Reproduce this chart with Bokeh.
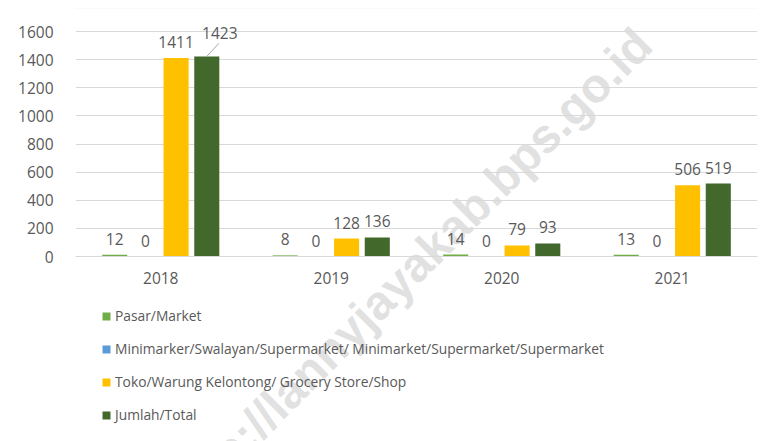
from bokeh.plotting import figure
from bokeh.models import (ColumnDataSource, FactorRange, LabelSet, Legend, LegendItem,
                          Label, Range1d, FixedTicker, BoxAnnotation)
from bokeh.transform import dodge
from bokeh.core.properties import value
from bokeh.embed import file_html
from bokeh.resources import INLINE

# ---- data ----
years = ["2018", "2019", "2020", "2021"]
pasar = [12, 8, 14, 13]
minimarket = [0, 0, 0, 0]
toko = [1411, 128, 79, 506]
jumlah = [1423, 136, 93, 519]
series_names = [
    "Pasar/Market",
    "Minimarker/Swalayan/Supermarket/ Minimarket/Supermarket/Supermarket",
    "Toko/Warung Kelontong/ Grocery Store/Shop",
    "Jumlah/Total",
]
y_ticks = [0, 200, 400, 600, 800, 1000, 1200, 1400, 1600]

# ---- style / layout ----
colors = ["#70AD47", "#5B9BD5", "#FFC000", "#43682B"]
offsets = [-0.27, -0.09, 0.09, 0.27]
bar_w = 0.147
txt = "#595959"
grid = "#D9D9D9"
font = "Open Sans"
fs = "15.5px"

W, H = 772, 441
frame_left, frame_right = 75, 757
frame_top = 8
zero_px = 256           # pixel row of value 0
top_val_px = 31         # pixel row of value 1600
ppu = (zero_px - top_val_px) / 1600.0
y_lo = -(H - zero_px) / ppu
y_hi = (zero_px - frame_top) / ppu

p = figure(x_range=FactorRange(*years), y_range=Range1d(y_lo, y_hi),
           width=W, height=H, output_backend="svg", toolbar_location=None,
           min_border_left=frame_left, min_border_right=W - frame_right,
           min_border_top=frame_top, min_border_bottom=0)
p.outline_line_color = None
p.background_fill_color = "white"
p.border_fill_color = "white"

p.xgrid.grid_line_color = None
p.ygrid.grid_line_color = grid
p.ygrid.grid_line_width = 1
p.ygrid.ticker = FixedTicker(ticks=y_ticks)

p.yaxis.ticker = FixedTicker(ticks=y_ticks)
p.yaxis.axis_line_color = None
p.yaxis.major_tick_line_color = None
p.yaxis.minor_tick_line_color = None
p.yaxis.major_label_standoff = 16
p.xaxis.fixed_location = 0
p.xaxis.axis_line_color = grid
p.xaxis.major_tick_line_color = None
p.xaxis.minor_tick_line_color = None
p.xaxis.major_label_standoff = 9
for ax in (p.xaxis, p.yaxis):
    ax.major_label_text_font = font
    ax.major_label_text_font_size = fs
    ax.major_label_text_color = txt

# chart border (left and top edges visible in the crop)
border = BoxAnnotation(left=7 - frame_left, right=W + 20, top=H - frame_top,
                       bottom=-50, left_units="screen", right_units="screen",
                       top_units="screen", bottom_units="screen",
                       fill_alpha=0, line_color=grid, line_width=1)
p.add_layout(border)

# watermark (below grid)
wm = Label(x=568, y=H - 36, x_units="screen", y_units="screen",
           text="http://lannyjayakab.bps.go.id", angle=45, angle_units="deg",
           text_align="right", text_baseline="middle", text_font="Liberation Sans",
           text_font_style="bold", text_font_size="48px", text_color="#C8C8C8",
           text_alpha=0.55, level="image")
p.add_layout(wm)

all_vals = [pasar, minimarket, toko, jumlah]
legend_items = []
px_per_cat = (frame_right - frame_left) / 4.0
for i, (name, vals, c, off) in enumerate(zip(series_names, all_vals, colors, offsets)):
    dx = [0] * len(years)
    dy = [10] * len(years)
    if i == 3:
        dx[0] = 13
        dy[0] = 17
    src = ColumnDataSource(dict(year=years, v=vals, t=[str(v) for v in vals],
                                dx=dx, dy=dy))
    r = p.vbar(x=dodge("year", off, range=p.x_range), top="v", bottom=0, width=bar_w,
               source=src, fill_color=c, line_color=None)
    legend_items.append(LegendItem(label=name, renderers=[r]))
    ls = LabelSet(x=dodge("year", off, range=p.x_range), y="v", text="t",
                  x_offset="dx", y_offset="dy", source=src, text_align="center",
                  text_baseline="bottom", text_font=value(font),
                  text_font_size=fs, text_color=txt)
    p.add_layout(ls)
    if i == 3:
        # leader line for the shifted first label
        lsrc = ColumnDataSource(dict(year=years[:1], v=vals[:1],
                                     v1=[vals[0] + 13 / ppu]))
        p.segment(x0=dodge("year", off, range=p.x_range), y0="v",
                  x1=dodge("year", off + 12 / px_per_cat, range=p.x_range), y1="v1",
                  source=lsrc, line_color="#A6A6A6", line_width=1)

legend = Legend(items=legend_items, location=(26, 17), orientation="vertical",
                glyph_width=10, glyph_height=10, label_height=10, spacing=14,
                label_standoff=4, padding=0, margin=0,
                label_text_font=font, label_text_font_size="13.8px",
                label_text_color=txt, label_text_baseline="middle",
                border_line_color=None, background_fill_alpha=0)
p.add_layout(legend)

open("out.html", "w").write(file_html(p, INLINE))
